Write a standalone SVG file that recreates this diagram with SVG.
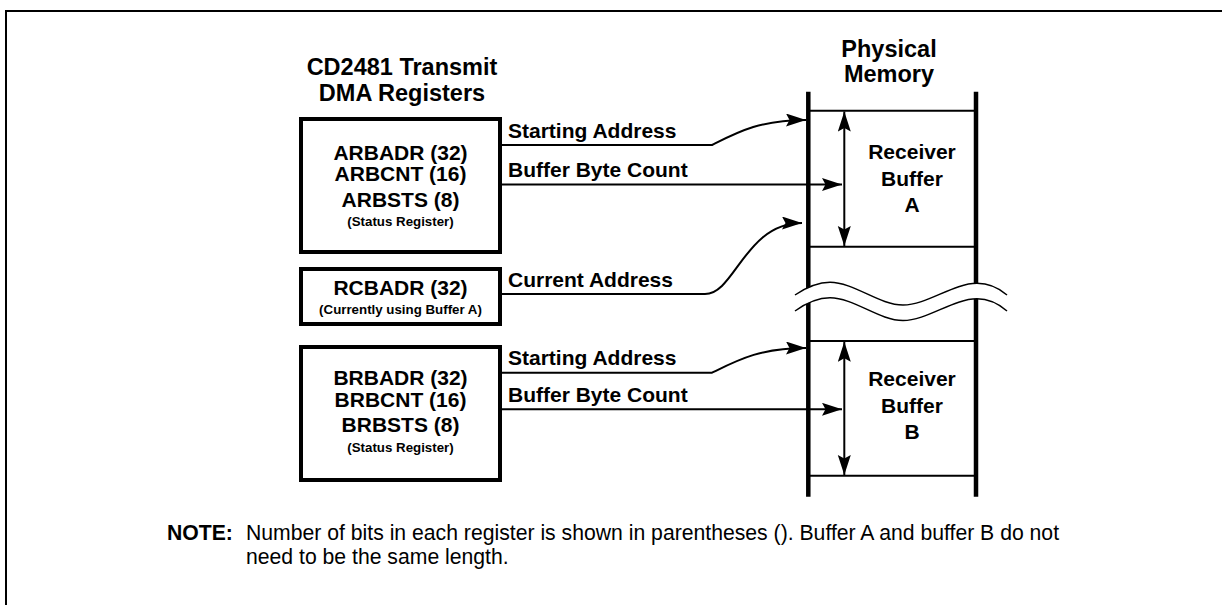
<svg xmlns="http://www.w3.org/2000/svg" width="1222" height="605" viewBox="0 0 1222 605">
<style>
.t{font-family:"Liberation Sans",Arial,sans-serif;fill:#000}
.b{font-weight:bold}
.title{font-size:23.5px}
.lbl{font-size:21px}
.sm{font-size:13.3px}
.note{font-size:21.2px}
.box{fill:#fff;stroke:#000;stroke-width:4}
.ln{fill:none;stroke:#000;stroke-width:2}
.mem{fill:none;stroke:#000;stroke-width:4.5}
.wave{fill:none;stroke:#000;stroke-width:1.5}
</style>
<defs>
<marker id="ah" markerUnits="userSpaceOnUse" markerWidth="22" markerHeight="14" refX="20" refY="6.5" orient="auto-start-reverse">
<path d="M0,0 L20,6.5 L0,13 L3.5,6.5 z" fill="#000"/>
</marker>
</defs>
<rect x="0" y="0" width="1222" height="605" fill="#fff"/>
<rect x="6" y="11" width="1240" height="620" fill="none" stroke="#000" stroke-width="2"/>

<g id="title-registers">
<text class="t b title" x="402" y="75" text-anchor="middle">CD2481 Transmit</text>
<text class="t b title" x="402" y="101" text-anchor="middle">DMA Registers</text>
</g>

<g id="title-memory">
<text class="t b title" x="889" y="57" text-anchor="middle">Physical</text>
<text class="t b title" x="889" y="82" text-anchor="middle">Memory</text>
</g>

<g id="reg-a">
<rect class="box" x="301" y="119" width="199" height="133"/>
<text class="t b lbl" x="400.5" y="160" text-anchor="middle">ARBADR (32)</text>
<text class="t b lbl" x="400.5" y="181" text-anchor="middle">ARBCNT (16)</text>
<text class="t b lbl" x="400.5" y="206.5" text-anchor="middle">ARBSTS (8)</text>
<text class="t b sm" x="400.5" y="226" text-anchor="middle">(Status Register)</text>
</g>

<g id="reg-rc">
<rect class="box" x="301" y="269" width="199" height="55"/>
<text class="t b lbl" x="400.5" y="295" text-anchor="middle">RCBADR (32)</text>
<text class="t b sm" x="400.5" y="313.5" text-anchor="middle">(Currently using Buffer A)</text>
</g>

<g id="reg-b">
<rect class="box" x="301" y="347" width="199" height="133"/>
<text class="t b lbl" x="400.5" y="385" text-anchor="middle">BRBADR (32)</text>
<text class="t b lbl" x="400.5" y="406.5" text-anchor="middle">BRBCNT (16)</text>
<text class="t b lbl" x="400.5" y="431.5" text-anchor="middle">BRBSTS (8)</text>
<text class="t b sm" x="400.5" y="451.5" text-anchor="middle">(Status Register)</text>
</g>

<g id="memory">
<line class="mem" x1="808.3" y1="91.7" x2="808.3" y2="496.7"/>
<line class="mem" x1="976" y1="91.7" x2="976" y2="496.7"/>
<line class="ln" x1="808" y1="110.7" x2="976" y2="110.7"/>
<line class="ln" x1="808" y1="246.7" x2="976" y2="246.7"/>
<line class="ln" x1="808" y1="341" x2="976" y2="341"/>
<line class="ln" x1="808" y1="475.7" x2="976" y2="475.7"/>
</g>

<g id="break">
<path d="M795,295 C807,287 818,282.3 830,282.3 C854,282.3 879,305 903,305 C927,305 953,283.3 977,283.3 C989,283.3 1000,289 1007,295 L1007,311 C1000,305 989,298.8 977,298.8 C953,298.8 927,320.5 903,320.5 C879,320.5 854,297.8 830,297.8 C818,297.8 807,302.5 795,311 Z" fill="#fff" stroke="none"/>
<path class="wave" d="M795,295 C807,287 818,282.3 830,282.3 C854,282.3 879,305 903,305 C927,305 953,283.3 977,283.3 C989,283.3 1000,289 1007,295"/>
<path class="wave" d="M795,311 C807,302.5 818,297.8 830,297.8 C854,297.8 879,320.5 903,320.5 C927,320.5 953,298.8 977,298.8 C989,298.8 1000,305 1007,311"/>
</g>

<g id="buffer-a">
<text class="t b lbl" x="912" y="159" text-anchor="middle">Receiver</text>
<text class="t b lbl" x="912" y="185.7" text-anchor="middle">Buffer</text>
<text class="t b lbl" x="912" y="212.3" text-anchor="middle">A</text>
</g>

<g id="buffer-b">
<text class="t b lbl" x="912" y="386" text-anchor="middle">Receiver</text>
<text class="t b lbl" x="912" y="413.3" text-anchor="middle">Buffer</text>
<text class="t b lbl" x="912" y="439.3" text-anchor="middle">B</text>
</g>

<g id="connectors">
<path class="ln" d="M502,145 H712 C738,132 760,120 806,120" marker-end="url(#ah)"/>
<text class="t b lbl" x="508" y="138">Starting Address</text>
<path class="ln" d="M502,184.5 H842" marker-end="url(#ah)"/>
<text class="t b lbl" x="508" y="177.3">Buffer Byte Count</text>
<path class="ln" d="M502,294 H705 C735,294 745,223 802,223" marker-end="url(#ah)"/>
<text class="t b lbl" x="508" y="286.7">Current Address</text>
<path class="ln" d="M502,372.7 H712 C738,360 760,348 806,348" marker-end="url(#ah)"/>
<text class="t b lbl" x="508" y="365">Starting Address</text>
<path class="ln" d="M502,409.3 H842" marker-end="url(#ah)"/>
<text class="t b lbl" x="508" y="401.7">Buffer Byte Count</text>
<path class="ln" d="M844.3,111.5 V246" marker-start="url(#ah)" marker-end="url(#ah)"/>
<path class="ln" d="M844.3,341.8 V475" marker-start="url(#ah)" marker-end="url(#ah)"/>
</g>

<g id="note">
<text class="t b note" x="167" y="540">NOTE:</text>
<text class="t note" x="246" y="540">Number of bits in each register is shown in parentheses (). Buffer A and buffer B do not</text>
<text class="t note" x="246" y="564">need to be the same length.</text>
</g>
</svg>
